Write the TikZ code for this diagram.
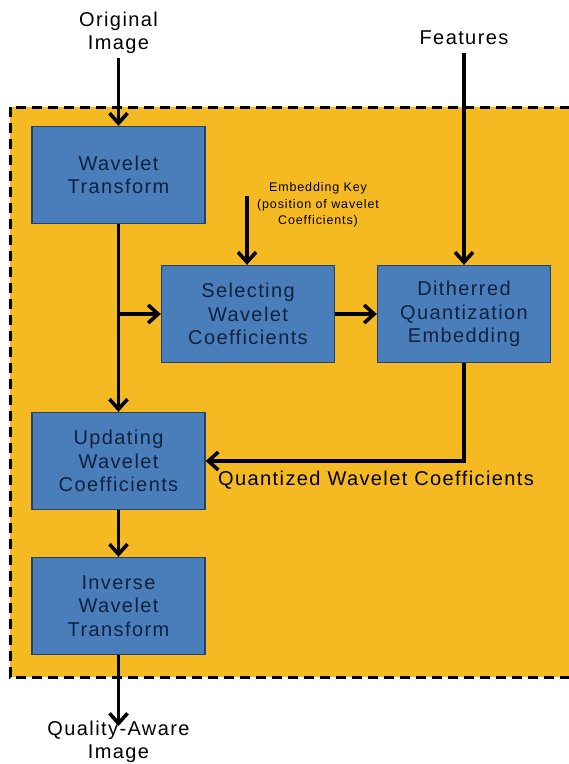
\documentclass[tikz,border=0pt]{standalone}
\usepackage{fontspec}
\setmainfont[LetterSpace=7]{Liberation Sans}
\usetikzlibrary{arrows.meta}
\definecolor{frameorange}{HTML}{F5B922}
\definecolor{boxblue}{HTML}{4A7EBB}
\definecolor{boxline}{HTML}{25406A}
\definecolor{boxtext}{HTML}{10223C}
\tikzset{block/.style={draw=boxline, line width=1.3pt, fill=boxblue, text=boxtext,
         minimum width=173pt, minimum height=97pt, inner sep=0pt, align=center,
         font=\fontsize{20}{23.5}\selectfont},
         txt/.style={align=center, inner sep=0pt, font=\fontsize{20}{23}\selectfont},
         flow/.style={line width=3.6pt, -{Straight Barb[length=10pt,width=18pt,line width=3.6pt]}}}

\begin{document}
\begin{tikzpicture}[x=1pt,y=-1pt]
        \clip (0,0) rectangle (569,764);
        
        % Dashed frame
        \draw[fill=frameorange, line width=3pt, dash pattern=on 10pt off 6pt] (10,107) rectangle (600,677);
        
        % Blocks
        \node[block] (wt)  at (118.5,175) {Wavelet\\Transform};
        \node[block] (sel) at (248,314) {Selecting\\Wavelet\\Coefficients};
        \node[block] (dqe) at (464,314) {Ditherred\\Quantization\\Embedding};
        \node[block] (upd) at (118.5,461) {Updating\\Wavelet\\Coefficients};
        \node[block] (iwt) at (118.5,606) {Inverse\\Wavelet\\Transform};
        
        % Inputs and output
        \node[txt] (orig) at (118.5,33) {Original\\Image};
        \node[txt] (feat) at (464,38) {Features};
        \node[txt, font=\fontsize{12.5}{16.5}\selectfont] (key) at (318,205) {Embedding Key\\(position of wavelet\\Coefficients)};
        \node[txt] (out) at (118.5,742) {Quality-Aware\\Image};
        \node[txt, anchor=west] (qwc) at (218,480) {Quantized Wavelet Coefficients};
        
        \coordinate (keyin) at (247,196);
        \coordinate (br) at (wt.south |- sel.west);
        \coordinate (outin) at (118.5,726);
        
        % Connectors
        \draw[flow] (orig.south) ++(0,4) -- (wt.north);
        \draw[flow] (feat.south) ++(0,8) -- (dqe.north);
        \draw[flow] (keyin) -- (keyin |- sel.north);
        \draw[flow] (wt.south) -- (upd.north);
        \draw[flow] (br) -- (sel.west);
        \draw[flow] (sel.east) -- (dqe.west);
        \draw[flow] (dqe.south) |- (upd.east);
        \draw[flow] (upd.south) -- (iwt.north);
        \draw[flow] (iwt.south) -- (outin);
        
\end{tikzpicture}
\end{document}
